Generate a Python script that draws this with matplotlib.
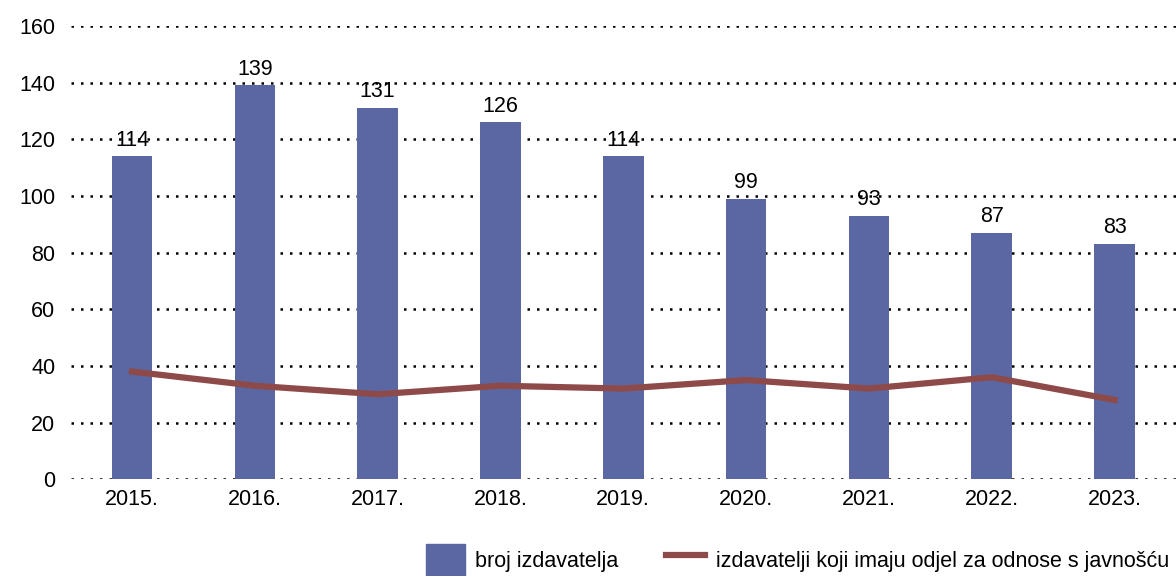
import numpy as np
import matplotlib.pyplot as plt
from matplotlib.patches import Patch
from matplotlib.lines import Line2D

plt.rcParams['font.family'] = ['Liberation Sans', 'DejaVu Sans']

years = ["2015.", "2016.", "2017.", "2018.", "2019.", "2020.", "2021.", "2022.", "2023."]
publishers = [114, 139, 131, 126, 114, 99, 93, 87, 83]
pr_dept = [38, 33, 30, 33, 32, 35, 32, 36, 28]

bar_color = "#5b67a3"
line_color = "#8e4a49"

fig = plt.figure(figsize=(11.76, 5.76), dpi=100)
ax = fig.add_axes([0.06, 0.168, 0.94, 0.787])

x = np.arange(len(years))
ax.bar(x, publishers, width=0.33, color=bar_color, zorder=2)
ax.plot(x, pr_dept, color=line_color, linewidth=4.5, zorder=3)

for xi, v in zip(x, publishers):
    ax.text(xi, v + 2, str(v), ha="center", va="bottom", fontsize=15.5, zorder=4)

ax.set_xlim(-0.5, 8.5)
ax.set_ylim(0, 160)
ax.set_yticks(range(0, 161, 20))
ax.set_xticks(x)
ax.set_xticklabels(years)
ax.yaxis.grid(True, linestyle=(0, (1, 2.8)), color="black", linewidth=1.8, zorder=0)
ax.set_axisbelow(True)
for s in ax.spines.values():
    s.set_visible(False)
ax.tick_params(axis="both", length=0, labelsize=15.5)
ax.tick_params(axis="y", pad=11)
ax.tick_params(axis="x", pad=7)

handles = [Patch(color=bar_color, label="broj izdavatelja"),
           Line2D([0], [0], color=line_color, linewidth=4.5, label="izdavatelji koji imaju odjel za odnose s javnošću")]
fig.legend(handles=handles, loc="center", bbox_to_anchor=(0.678, 0.028), ncol=2, frameon=False,
           fontsize=15.5, handlelength=1.8, handleheight=1.9, handletextpad=0.5, columnspacing=2.2)

fig.savefig("out.png", dpi=100)
